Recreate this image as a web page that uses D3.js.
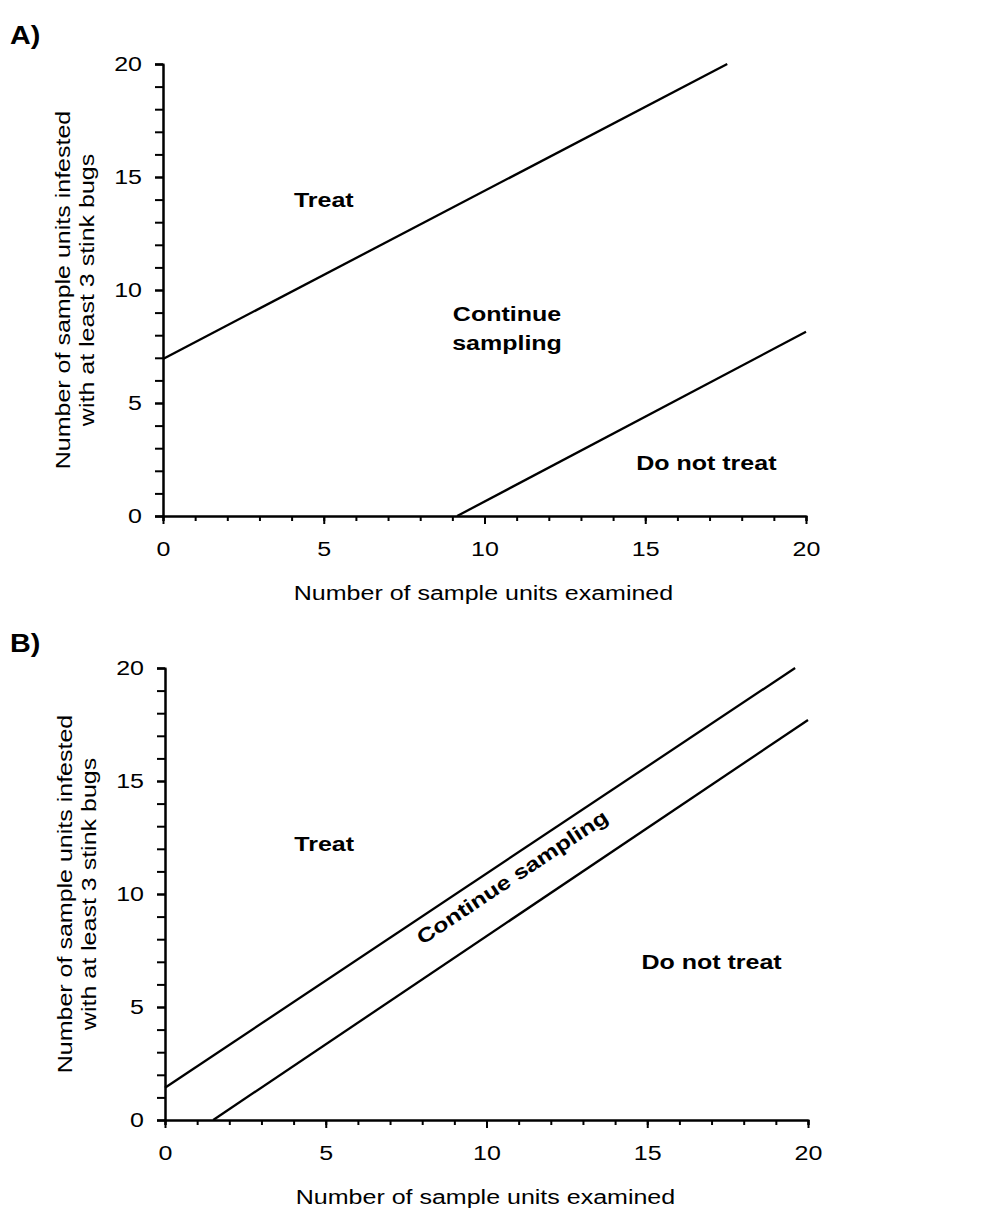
<!DOCTYPE html>
<html>
<head>
<meta charset="utf-8">
<script src="https://cdn.jsdelivr.net/npm/d3@7"></script>
<style>
  body { margin: 0; background: #fff; }
  svg { display: block; font-family: "Liberation Sans", Arial, sans-serif; }
  .axis path, .axis line { stroke: #000; stroke-width: 2; }
  .axis text { font-size: 20px; fill: #000; }
  .zone { font-size: 20px; font-weight: bold; fill: #000; }
  .title { font-size: 20px; fill: #000; }
</style>
</head>
<body>
<svg width="993" height="1208"></svg>
<script>
// axis ranges and ticks
const xDomain = [0, 20];
const yDomain = [0, 20];
const majorTicks = [0, 5, 10, 15, 20];
const minorTicks = d3.range(0, 21);

// panel A decision lines (x = sample units examined, y = infested units)
const aTreatLine = [[0, 6.95], [17.55, 20]];
const aNoTreatLine = [[9.15, 0], [20, 8.15]];
// panel B decision lines
const bTreatLine = [[0, 1.43], [19.6, 20]];
const bNoTreatLine = [[1.5, 0], [20, 17.7]];

// zone labels: lines of text, x, y (data units)
const aLabels = [
  { t: ["Treat"], x: 5.0, y: 14.0 },
  { t: ["Continue", "sampling"], x: 10.7, y: 8.3 },
  { t: ["Do not treat"], x: 16.9, y: 2.35 }
];
const bLabels = [
  { t: ["Treat"], x: 4.95, y: 12.2 },
  { t: ["Continue sampling"], x: 10.8, y: 10.75, rot: true },
  { t: ["Do not treat"], x: 17.0, y: 7.0 }
];

const yTitle = ["Number of sample units infested", "with at least 3 stink bugs"];
const xTitle = "Number of sample units examined";

const WIDE = 1.25; // glyphs in the figure are drawn wider than plain Arial

const svg = d3.select("svg");

function stretch(sel, k) {
  sel.each(function () {
    const len = this.getComputedTextLength();
    d3.select(this).attr("textLength", len * k).attr("lengthAdjust", "spacingAndGlyphs");
  });
}

function drawPanel(tag, tagY, left, top, lines, labels) {
  const width = 643, height = 452;
  const g = svg.append("g").attr("transform", `translate(${left},${top})`);

  const x = d3.scaleLinear(xDomain, [0, width]);
  const y = d3.scaleLinear(yDomain, [height, 0]);

  // minor ticks first, then major axis on top
  g.append("g").attr("class", "axis").attr("transform", `translate(0,${height})`)
    .call(d3.axisBottom(x).tickValues(minorTicks).tickSize(5).tickFormat(""));
  g.append("g").attr("class", "axis")
    .call(d3.axisLeft(y).tickValues(minorTicks).tickSize(8).tickFormat(""));

  g.append("g").attr("class", "axis").attr("transform", `translate(0,${height})`)
    .call(d3.axisBottom(x).tickValues(majorTicks).tickSize(8).tickPadding(18).tickSizeOuter(0));
  g.append("g").attr("class", "axis")
    .call(d3.axisLeft(y).tickValues(majorTicks).tickSize(8).tickPadding(13).tickSizeOuter(0));

  stretch(g.selectAll(".axis text"), WIDE);

  const line = d3.line().x(d => x(d[0])).y(d => y(d[1]));
  g.selectAll(".rule").data(lines).join("path")
    .attr("class", "rule")
    .attr("fill", "none")
    .attr("stroke", "#000")
    .attr("stroke-width", 2.3)
    .attr("d", line);

  const ang = Math.atan2(y(lines[0][0][1]) - y(lines[0][1][1]), x(lines[0][1][0]) - x(lines[0][0][0])) * 180 / Math.PI;

  labels.forEach(l => {
    const n = l.t.length;
    l.t.forEach((s, i) => {
      const off = (i - (n - 1) / 2) * 1.45;
      g.append("text").attr("class", "zone")
        .attr("text-anchor", "middle")
        .attr("transform", `translate(${x(l.x)},${y(l.y)})` + (l.rot ? ` rotate(${-ang})` : ""))
        .attr("dy", (0.35 + off) + "em")
        .text(s)
        .call(stretch, WIDE);
    });
  });

  // axis titles
  g.append("text").attr("class", "title")
    .attr("text-anchor", "middle")
    .attr("x", width / 2 - 1)
    .attr("y", height + 84)
    .text(xTitle)
    .call(stretch, WIDE);

  yTitle.forEach((s, i) => {
    g.append("text").attr("class", "title")
      .attr("text-anchor", "middle")
      .attr("transform", `translate(${-93 + i * 24},${height / 2}) rotate(-90)`)
      .text(s)
      .call(stretch, WIDE);
  });

  svg.append("text").attr("class", "zone")
    .style("font-size", "25px")
    .attr("x", 10)
    .attr("y", tagY)
    .text(tag)
    .call(stretch, 1.15);
}

drawPanel("A)", 44, 163, 64, [aTreatLine, aNoTreatLine], aLabels);
drawPanel("B)", 652, 165, 668, [bTreatLine, bNoTreatLine], bLabels);
</script>
</body>
</html>
